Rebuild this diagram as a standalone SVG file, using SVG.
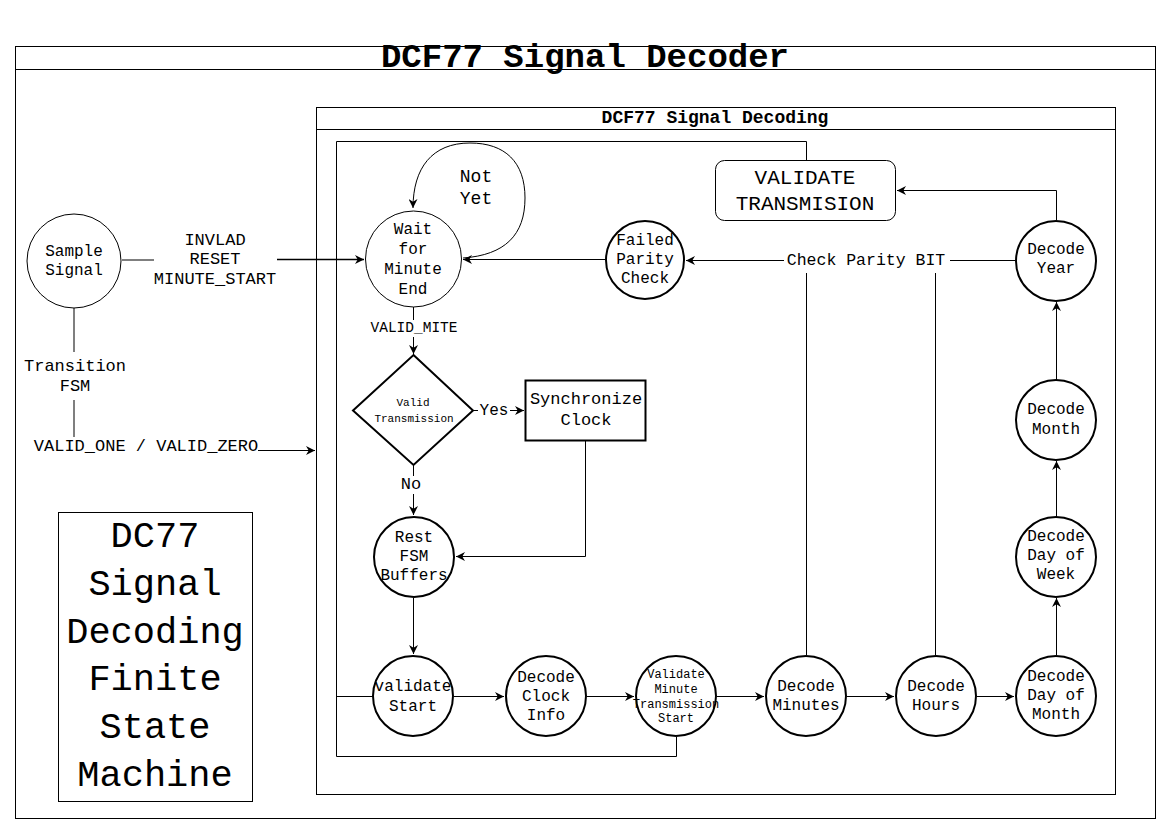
<svg xmlns="http://www.w3.org/2000/svg" width="1171" height="834" viewBox="0 0 1171 834">
<style>
text{font-family:"Liberation Mono","Courier New",monospace;fill:#000;text-anchor:middle}
.c1{fill:#fff;stroke:#000;stroke-width:1}
.c2{fill:#fff;stroke:#000;stroke-width:2}
.ln{fill:none;stroke:#000;stroke-width:1}
.gl{fill:none;stroke:#555;stroke-width:1.5}
.f16{font-size:16px}
.f17{font-size:17px}
</style>
<defs>
<marker id="ar" viewBox="0 0 10 10" refX="10" refY="5" markerWidth="9" markerHeight="9" markerUnits="userSpaceOnUse" orient="auto">
<path d="M0,0 L10,5 L0,10 L3,5 z" fill="#000"/>
</marker>
</defs>
<rect width="1171" height="834" fill="#fff"/>
<g id="outer">
<rect x="15.5" y="46.5" width="1140" height="772" class="ln"/>
<line x1="15.5" y1="69.5" x2="1155.5" y2="69.5" class="ln"/>
<text x="585" y="67" style="font-size:34px;font-weight:bold">DCF77 Signal Decoder</text>
</g>
<g id="inner">
<rect x="316.5" y="107.5" width="799" height="687" class="ln"/>
<line x1="316.5" y1="129.5" x2="1115.5" y2="129.5" class="ln"/>
<text x="715" y="123" style="font-size:18px;font-weight:bold">DCF77 Signal Decoding</text>
</g>
<g id="connectors">
<!-- outer loop lines -->
<polyline class="ln" points="676.5,737 676.5,756.5 336.5,756.5 336.5,141.5 806.5,141.5 806.5,160"/>
<line class="ln" x1="336.5" y1="696.5" x2="373" y2="696.5"/>
<!-- sample signal -->
<line class="gl" x1="122" y1="260" x2="154" y2="260"/>
<line class="ln" x1="277" y1="259.5" x2="364" y2="259.5" marker-end="url(#ar)" style="stroke-width:1.5"/>
<line class="gl" x1="74" y1="303" x2="74" y2="352"/>
<line class="gl" x1="74" y1="400" x2="74" y2="437"/>
<line class="ln" x1="258" y1="450.5" x2="315" y2="450.5" marker-end="url(#ar)"/>
<!-- self loop -->
<path class="ln" d="M463,258 C505,255 525,235 525,198 C525,162 505,143 470,143 C432,143 413,168 413,208" marker-end="url(#ar)"/>
<line class="ln" x1="605" y1="259.5" x2="463" y2="259.5" marker-end="url(#ar)"/>
<!-- check parity -->
<line class="ln" x1="1015" y1="260.5" x2="950" y2="260.5"/>
<line class="ln" x1="784" y1="260.5" x2="686" y2="260.5" marker-end="url(#ar)"/>
<line class="ln" x1="806.5" y1="273" x2="806.5" y2="655"/>
<line class="ln" x1="935.5" y1="273" x2="935.5" y2="655"/>
<!-- year to validate -->
<polyline class="ln" points="1056.5,220 1056.5,190.5 897,190.5" marker-end="url(#ar)"/>
<!-- vertical chain -->
<line class="ln" x1="1056.5" y1="380" x2="1056.5" y2="302" marker-end="url(#ar)"/>
<line class="ln" x1="1056.5" y1="517" x2="1056.5" y2="461" marker-end="url(#ar)"/>
<line class="ln" x1="1056.5" y1="655" x2="1056.5" y2="598" marker-end="url(#ar)"/>
<!-- wait to diamond -->
<line class="ln" x1="413.5" y1="307" x2="413.5" y2="320"/>
<line class="ln" x1="413.5" y1="337" x2="413.5" y2="354" marker-end="url(#ar)"/>
<!-- yes -->
<line class="ln" x1="473" y1="410.5" x2="478" y2="410.5"/>
<line class="ln" x1="510" y1="410.5" x2="524" y2="410.5" marker-end="url(#ar)"/>
<!-- no -->
<line class="ln" x1="413.5" y1="465" x2="413.5" y2="476"/>
<line class="ln" x1="413.5" y1="494" x2="413.5" y2="515" marker-end="url(#ar)"/>
<!-- sync to rest -->
<polyline class="ln" points="585.5,441 585.5,556.5 456,556.5" marker-end="url(#ar)"/>
<!-- rest to validate start -->
<line class="ln" x1="413.5" y1="598" x2="413.5" y2="654" marker-end="url(#ar)"/>
<!-- bottom row -->
<line class="ln" x1="454" y1="696.5" x2="504" y2="696.5" marker-end="url(#ar)"/>
<line class="ln" x1="587" y1="696.5" x2="634" y2="696.5" marker-end="url(#ar)"/>
<line class="ln" x1="717" y1="696.5" x2="764" y2="696.5" marker-end="url(#ar)"/>
<line class="ln" x1="847" y1="696.5" x2="894" y2="696.5" marker-end="url(#ar)"/>
<line class="ln" x1="977" y1="696.5" x2="1014" y2="696.5" marker-end="url(#ar)"/>
<!-- labels -->
<text class="f17" x="215" y="245">INVLAD</text>
<text class="f17" x="215" y="264">RESET</text>
<text class="f17" x="215" y="284">MINUTE_START</text>
<text class="f17" x="75" y="371">Transition</text>
<text class="f17" x="75" y="391">FSM</text>
<text class="f17" x="146" y="451">VALID_ONE / VALID_ZERO</text>
<text x="476" y="182" style="font-size:18px">Not</text>
<text x="476" y="204" style="font-size:18px">Yet</text>
<text x="866" y="265" style="font-size:16.5px">Check Parity BIT</text>
<text x="414" y="332" style="font-size:14.5px">VALID_MITE</text>
<text class="f16" x="494" y="415">Yes</text>
<text class="f17" x="411" y="489">No</text>
</g>
<g id="sample-signal">
<circle class="c1" cx="74" cy="261" r="47"/>
<text class="f16" x="74" y="256">Sample</text>
<text class="f16" x="74" y="275">Signal</text>
</g>
<g id="wait-minute-end">
<circle class="c1" cx="413.5" cy="259" r="48"/>
<text class="f16" x="413" y="234">Wait</text>
<text class="f16" x="413" y="254">for</text>
<text class="f16" x="413" y="274">Minute</text>
<text class="f16" x="413" y="294">End</text>
</g>
<g id="failed-parity">
<circle class="c2" cx="645" cy="260" r="39"/>
<text class="f16" x="645" y="245">Failed</text>
<text class="f16" x="645" y="264">Parity</text>
<text class="f16" x="645" y="283">Check</text>
</g>
<g id="validate-transmission">
<rect x="715.5" y="160.5" width="180" height="60" rx="9" class="c1"/>
<text x="805" y="184" style="font-size:21px">VALIDATE</text>
<text x="805" y="210" style="font-size:21px">TRANSMISION</text>
</g>
<g id="decode-year">
<circle class="c2" cx="1056" cy="261" r="40"/>
<text class="f16" x="1056" y="254">Decode</text>
<text class="f16" x="1056" y="273">Year</text>
</g>
<g id="decode-month">
<circle class="c2" cx="1056" cy="420" r="40"/>
<text class="f16" x="1056" y="414">Decode</text>
<text class="f16" x="1056" y="434">Month</text>
</g>
<g id="decode-day-of-week">
<circle class="c2" cx="1056" cy="557" r="40"/>
<text class="f16" x="1056" y="541">Decode</text>
<text class="f16" x="1056" y="560">Day of</text>
<text class="f16" x="1056" y="579">Week</text>
</g>
<g id="decode-day-of-month">
<circle class="c2" cx="1056" cy="696" r="40"/>
<text class="f16" x="1056" y="681">Decode</text>
<text class="f16" x="1056" y="700">Day of</text>
<text class="f16" x="1056" y="719">Month</text>
</g>
<g id="valid-transmission">
<polygon class="c2" points="413.5,355 473,410.5 413.5,465 353,410.5"/>
<text x="413" y="406" style="font-size:11px">Valid</text>
<text x="414" y="422" style="font-size:11px">Transmission</text>
</g>
<g id="synchronize-clock">
<rect x="525.5" y="380.5" width="120" height="60" class="c2"/>
<text class="f17" x="586" y="404">Synchronize</text>
<text class="f17" x="586" y="425">Clock</text>
</g>
<g id="rest-fsm-buffers">
<circle class="c2" cx="414" cy="557" r="40"/>
<text class="f16" x="414" y="542">Rest</text>
<text class="f16" x="414" y="561">FSM</text>
<text class="f16" x="414" y="580">Buffers</text>
</g>
<g id="validate-start">
<circle class="c2" cx="413" cy="696" r="40"/>
<text class="f16" x="413" y="691">validate</text>
<text class="f16" x="413" y="711">Start</text>
</g>
<g id="decode-clock-info">
<circle class="c2" cx="546" cy="696" r="40"/>
<text class="f16" x="546" y="682">Decode</text>
<text class="f16" x="546" y="701">Clock</text>
<text class="f16" x="546" y="720">Info</text>
</g>
<g id="validate-minute-transmission-start">
<circle class="c2" cx="676" cy="696" r="40"/>
<text x="676" y="678" style="font-size:12px">Validate</text>
<text x="676" y="693" style="font-size:12px">Minute</text>
<text x="676" y="708" style="font-size:12px">Transmission</text>
<text x="676" y="722" style="font-size:12px">Start</text>
</g>
<g id="decode-minutes">
<circle class="c2" cx="806" cy="696" r="40"/>
<text class="f16" x="806" y="691">Decode</text>
<text class="f16" x="806" y="710">Minutes</text>
</g>
<g id="decode-hours">
<circle class="c2" cx="936" cy="696" r="40"/>
<text class="f16" x="936" y="691">Decode</text>
<text class="f16" x="936" y="710">Hours</text>
</g>
<g id="legend">
<rect x="58.5" y="512.5" width="194" height="289" class="c1"/>
<text x="155" y="547" style="font-size:37px">DC77</text>
<text x="155" y="595" style="font-size:37px">Signal</text>
<text x="155" y="643" style="font-size:37px">Decoding</text>
<text x="155" y="690" style="font-size:37px">Finite</text>
<text x="155" y="738" style="font-size:37px">State</text>
<text x="155" y="786" style="font-size:37px">Machine</text>
</g>
</svg>
